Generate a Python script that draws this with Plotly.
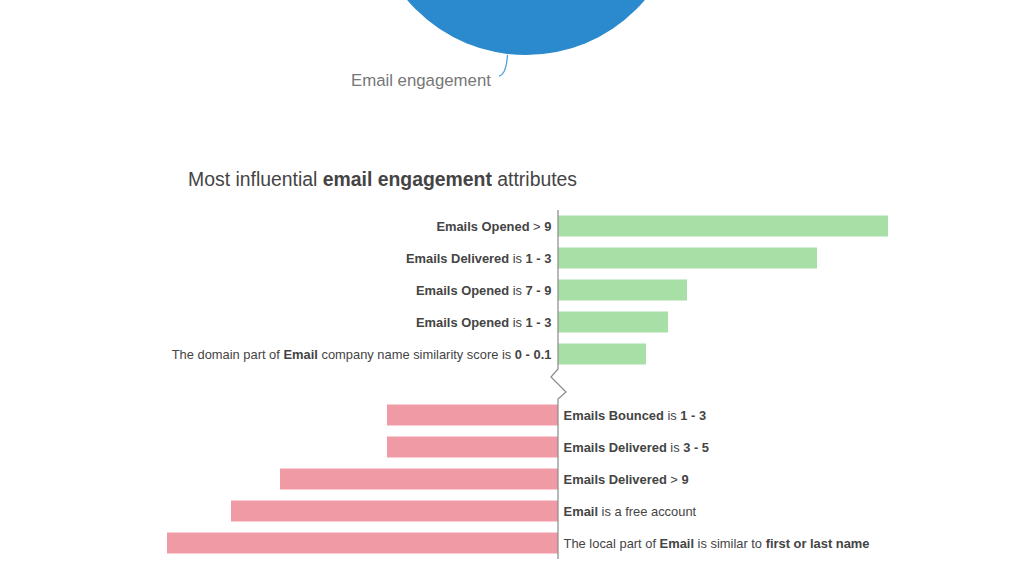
# most influential attributes: diverging bars with a bubble cut off at the top
import plotly.graph_objects as go

W, H = 1024, 585

# --- Values ---
pos_labels = [
    "<b>Emails Opened</b> > <b>9</b>",
    "<b>Emails Delivered</b> is <b>1 - 3</b>",
    "<b>Emails Opened</b> is <b>7 - 9</b>",
    "<b>Emails Opened</b> is <b>1 - 3</b>",
    "The domain part of <b>Email</b> company name similarity score is <b>0 - 0.1</b>",
]
pos_values = [330, 259, 129, 110, 88]

neg_labels = [
    "<b>Emails Bounced</b> is <b>1 - 3</b>",
    "<b>Emails Delivered</b> is <b>3 - 5</b>",
    "<b>Emails Delivered</b> > <b>9</b>",
    "<b>Email</b> is a free account",
    "The local part of <b>Email</b> is similar to <b>first or last name</b>",
]
neg_values = [-171, -171, -278, -327, -391]

FONT = "Liberation Sans"
TEXT = "#444444"
AXIS = "#8a8a8a"


def px(x):
    return x / W


def py(y):
    return 1 - y / H


def path(points):
    return "M " + " L ".join(f"{px(x):.5f},{py(y):.5f}" for x, y in points)


fig = go.Figure()
fig.add_trace(go.Bar(x=pos_values, y=pos_labels, orientation="h", marker=dict(color="#a7dfa7", line_width=0), yaxis="y"))
fig.add_trace(go.Bar(x=neg_values, y=neg_labels, orientation="h", marker=dict(color="#f09aa5", line_width=0), yaxis="y2"))

ytick = dict(
    type="category",
    anchor="free",
    position=px(558),
    showgrid=False,
    zeroline=False,
    showline=False,
    ticks="outside",
    tickcolor="rgba(0,0,0,0)",
    tickfont=dict(family=FONT, size=12.9, color=TEXT),
    autorange="reversed",
)

fig.update_layout(
    width=W,
    height=H,
    margin=dict(l=0, r=0, t=0, b=0),
    autosize=False,
    paper_bgcolor="white",
    plot_bgcolor="white",
    showlegend=False,
    barmode="overlay",
    bargap=0.34,
    font=dict(family=FONT, color=TEXT),
    xaxis=dict(range=[-558, 466], domain=[0, 1], visible=False, fixedrange=True),
    yaxis=dict(ytick, ticklen=4, domain=[py(370), py(210)], side="left", categoryorder="array", categoryarray=pos_labels),
    yaxis2=dict(ytick, ticklen=2, domain=[py(559), py(399)], side="right", categoryorder="array", categoryarray=neg_labels),
    shapes=[
        # bubble running off the top edge
        dict(type="circle", xref="paper", yref="paper", x0=px(370), x1=px(682), y0=py(55), y1=py(-257),
             fillcolor="#2b8ace", line_width=0, layer="below"),
        # leader from the bubble to its label
        dict(type="path", xref="paper", yref="paper",
             path=f"M {px(507.5):.5f},{py(55):.5f} Q {px(506):.5f},{py(75):.5f} {px(499):.5f},{py(76):.5f}",
             line=dict(color="#4a9fdc", width=1.3)),
        # axis with the break between the two groups
        dict(type="path", xref="paper", yref="paper",
             path=path([(558, 210), (558, 369), (551, 377), (566, 392), (558, 399), (558, 559)]),
             line=dict(color=AXIS, width=1.2)),
    ],
    annotations=[
        dict(text="Email engagement", xref="paper", yref="paper", x=px(348.5), y=py(80.5), xanchor="left", yanchor="middle",
             showarrow=False, font=dict(family=FONT, size=16.8, color="#777777")),
        dict(text="Most influential <b>email engagement</b> attributes", xref="paper", yref="paper",
             x=px(186), y=py(179), xanchor="left", yanchor="middle", showarrow=False,
             font=dict(family=FONT, size=19.4, color=TEXT)),
    ],
)

# the page's default body margin would push the fixed-size figure off by 8px
fig.write_html("out.html", post_script="document.body.style.margin='0';", config=dict(displayModeBar=False))
